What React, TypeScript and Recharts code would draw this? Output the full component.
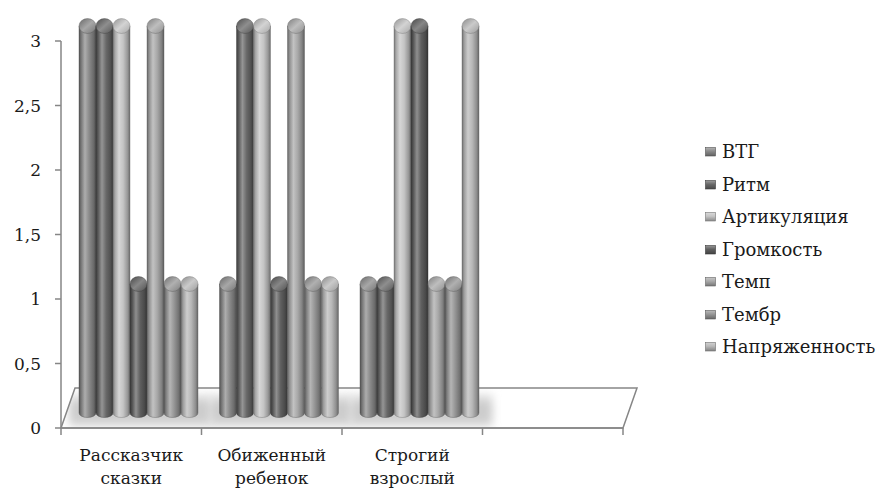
import React from 'react';
import { BarChart, Bar, XAxis, YAxis, Legend, ReferenceArea } from 'recharts';

const categories = ['Рассказчик сказки', 'Обиженный ребенок', 'Строгий взрослый', ''];
const seriesNames = ['ВТГ', 'Ритм', 'Артикуляция', 'Громкость', 'Темп', 'Тембр', 'Напряженность'];
const vtg = [3, 1, 1, null];
const ritm = [3, 3, 1, null];
const artikulyatsiya = [3, 3, 3, null];
const gromkost = [1, 1, 3, null];
const tempValues = [3, 3, 1, null];
const tembr = [1, 1, 1, null];
const napryazhennost = [1, 1, 3, null];
const yTicks = [0, 0.5, 1, 1.5, 2, 2.5, 3];

const seriesValues = [vtg, ritm, artikulyatsiya, gromkost, tempValues, tembr, napryazhennost];
const seriesColors = ['#8a8a8a', '#686868', '#c4c4c4', '#5f5f5f', '#a8a8a8', '#959595', '#b8b8b8'];
const keys = seriesNames.map((_, j) => `s${j}`);

const data = categories.map((name, i) => {
  const row: any = { name };
  seriesValues.forEach((vals, j) => {
    row[keys[j]] = vals[i];
  });
  return row;
});

const FONT = '"DejaVu Serif", serif';
const AXIS = '#868686';
const DX = 7;
const DY = -15;

const shade = (hex: string, f: number) => {
  const n = parseInt(hex.slice(1), 16);
  const ch = [(n >> 16) & 255, (n >> 8) & 255, n & 255].map((c) => {
    const v = f < 1 ? c * f : c + (255 - c) * (f - 1);
    return Math.max(0, Math.min(255, Math.round(v)));
  });
  return '#' + ch.map((c) => c.toString(16).padStart(2, '0')).join('');
};

const Cylinder = (props: any) => {
  const { x, y, width, height, si } = props;
  if (height == null || width == null || isNaN(y)) return null;
  const X = x + DX;
  const Y = y + DY;
  const w = width;
  const h = height;
  const rx = w / 2;
  const ry = Math.min(7.5, w * 0.44);
  const body = `M ${X} ${Y} L ${X} ${Y + h} A ${rx} ${ry * 0.6} 0 0 0 ${X + w} ${Y + h} L ${X + w} ${Y} Z`;
  return (
    <g>
      <path d={body} fill={`url(#body-${si})`} stroke={shade(seriesColors[si], 0.55)} strokeWidth={0.4} />
      <ellipse cx={X + rx} cy={Y} rx={rx} ry={ry} fill={`url(#top-${si})`} stroke={shade(seriesColors[si], 0.6)} strokeWidth={0.4} />
    </g>
  );
};

const Floor = (props: any) => {
  const { x, y, width, height } = props;
  const y0 = y + height;
  const depth = 40;
  const skew = 14;
  const yb = y0 - depth;
  const band = width / categories.length;
  const pts = `${x},${y0} ${x + width},${y0} ${x + width + skew},${yb} ${x + skew},${yb}`;
  return (
    <g>
      <defs>
        <clipPath id="floorClip">
          <polygon points={pts} />
        </clipPath>
        <filter id="shadowBlur" x="-30%" y="-60%" width="160%" height="220%">
          <feGaussianBlur stdDeviation="4" />
        </filter>
        <linearGradient id="shadowGrad" x1="0" y1="0" x2="0" y2="1">
          <stop offset="0%" stopColor="#e8e8e8" />
          <stop offset="40%" stopColor="#c9c9c9" />
          <stop offset="100%" stopColor="#d4d4d4" />
        </linearGradient>
      </defs>
      <polygon points={pts} fill="#ffffff" />
      <g clipPath="url(#floorClip)">
        {categories.map((c, i) =>
          seriesValues.some((s) => s[i] != null) ? (
            <rect
              key={i}
              x={x + i * band + 8}
              y={yb + 6}
              width={band + 2}
              height={depth - 8}
              fill="url(#shadowGrad)"
              filter="url(#shadowBlur)"
            />
          ) : null
        )}
      </g>
      <polygon points={pts} fill="none" stroke={AXIS} strokeWidth={1.5} />
    </g>
  );
};

const XTick = (props: any) => {
  const { x, y, payload, index, width } = props;
  const half = payload && payload.offset ? payload.offset : (width || 562) / categories.length / 2;
  const words = String(payload.value || '').split(' ').filter(Boolean);
  return (
    <g>
      <line x1={x - half} y1={y} x2={x - half} y2={y + 7} stroke={AXIS} strokeWidth={1.5} />
      {index === categories.length - 1 ? (
        <line x1={x + half} y1={y} x2={x + half} y2={y + 7} stroke={AXIS} strokeWidth={1.5} />
      ) : null}
      <text x={x} y={y} textAnchor="middle" fontFamily={FONT} fontSize={17} fill="#1a1a1a">
        {words.map((wd, k) => (
          <tspan key={k} x={x} dy={k === 0 ? 33 : 23}>
            {wd}
          </tspan>
        ))}
      </text>
    </g>
  );
};

const LegendContent = () => (
  <div style={{ fontFamily: FONT, fontSize: 18, color: '#1a1a1a' }}>
    {seriesNames.map((n, j) => (
      <div key={n} style={{ height: 32.5, display: 'flex', alignItems: 'center' }}>
        <svg width={11} height={10} style={{ marginRight: 6 }}>
          <rect x={0.5} y={0.5} width={10} height={8.5} fill={`url(#leg-${j})`} stroke={shade(seriesColors[j], 0.6)} strokeWidth={0.6} />
          <defs>
            <linearGradient id={`leg-${j}`} x1="0" y1="0" x2="0" y2="1">
              <stop offset="0%" stopColor={shade(seriesColors[j], 1.35)} />
              <stop offset="45%" stopColor={seriesColors[j]} />
              <stop offset="100%" stopColor={shade(seriesColors[j], 0.7)} />
            </linearGradient>
          </defs>
        </svg>
        <span style={{ lineHeight: '18px' }}>{n}</span>
      </div>
    ))}
  </div>
);

export default function App() {
  return (
    <div style={{ position: 'absolute', left: 0, top: 0, width: 880, height: 490, background: '#fff' }}>
      <BarChart
        width={880}
        height={490}
        data={data}
        margin={{ top: 41, right: 82, bottom: 2, left: 11 }}
        barGap={0}
        barSize={17}
      >
        <defs>
          {seriesColors.map((c, j) => (
            <linearGradient key={`b${j}`} id={`body-${j}`} x1="0" y1="0" x2="1" y2="0">
              <stop offset="0%" stopColor={shade(c, 0.6)} />
              <stop offset="12%" stopColor={shade(c, 0.85)} />
              <stop offset="35%" stopColor={shade(c, 1.3)} />
              <stop offset="60%" stopColor={c} />
              <stop offset="85%" stopColor={shade(c, 0.78)} />
              <stop offset="100%" stopColor={shade(c, 0.55)} />
            </linearGradient>
          ))}
          {seriesColors.map((c, j) => (
            <linearGradient key={`t${j}`} id={`top-${j}`} x1="0" y1="0" x2="1" y2="1">
              <stop offset="0%" stopColor={shade(c, 0.75)} />
              <stop offset="50%" stopColor={shade(c, 1.25)} />
              <stop offset="100%" stopColor={shade(c, 0.85)} />
            </linearGradient>
          ))}
        </defs>
        <ReferenceArea y1={0} y2={3} shape={<Floor />} ifOverflow="visible" />
        <XAxis
          dataKey="name"
          height={60}
          interval={0}
          tickLine={false}
          tickSize={0}
          tickMargin={0}
          axisLine={{ stroke: AXIS, strokeWidth: 1.5 }}
          tick={<XTick />}
        />
        <YAxis
          width={50}
          domain={[0, 3]}
          ticks={yTicks}
          interval={0}
          tickSize={6}
          tickMargin={14}
          axisLine={{ stroke: AXIS, strokeWidth: 1.5 }}
          tickLine={{ stroke: AXIS, strokeWidth: 1.5 }}
          tick={{ fontFamily: FONT, fontSize: 17, fill: '#1a1a1a' }}
          tickFormatter={(v: number) => String(v).replace('.', ',')}
        />
        {keys.map((k, j) => (
          <Bar
            key={k}
            dataKey={k}
            name={seriesNames[j]}
            fill={seriesColors[j]}
            isAnimationActive={false}
            shape={(p: any) => <Cylinder {...p} si={j} />}
          />
        ))}
        <Legend
          layout="vertical"
          align="right"
          verticalAlign="top"
          content={<LegendContent />}
          wrapperStyle={{ left: 705, top: 136, width: 175 }}
        />
      </BarChart>
    </div>
  );
}
